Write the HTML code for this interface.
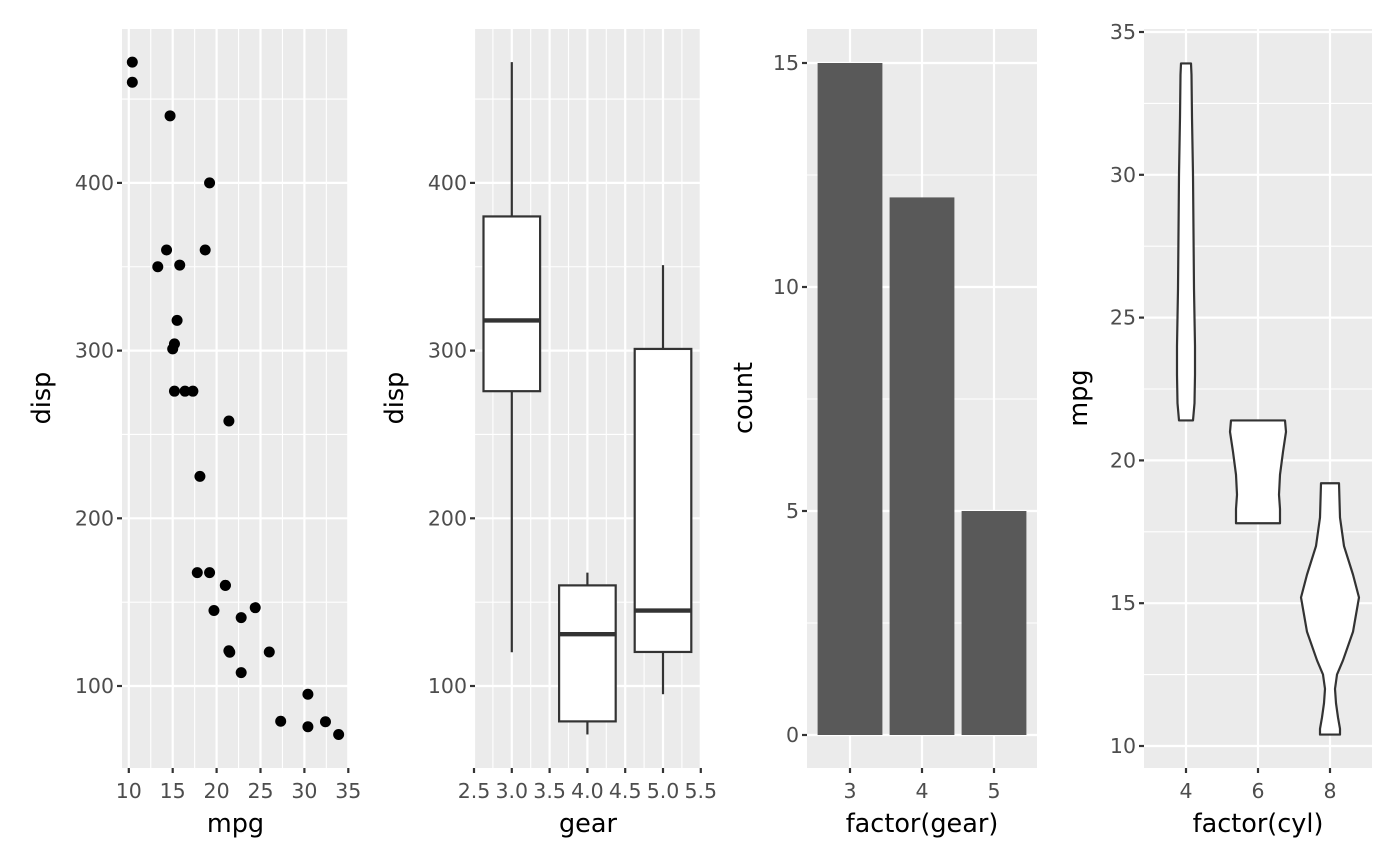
<!DOCTYPE html>
<html><head><meta charset="utf-8"><style>body{margin:0;background:#fff}svg{display:block}text{font-family:"DejaVu Sans","Liberation Sans",sans-serif}</style></head>
<body>
<svg id="s" width="1400" height="866" xmlns="http://www.w3.org/2000/svg"></svg>
<script>
const s=document.getElementById('s');let h='';
const T=29,B=768;
function panel(x0,x1,xmaj,xmin,ymaj,ymin,fx,fy,xl,xt,yt,ytx){
 h+=`<rect x="${x0}" y="${T}" width="${x1-x0}" height="${B-T}" fill="#ebebeb"/>`;
 xmin.forEach(v=>{let x=fx(v);h+=`<line x1="${x}" x2="${x}" y1="${T}" y2="${B}" stroke="#fff" stroke-width="1.1"/>`});
 ymin.forEach(v=>{let y=fy(v);h+=`<line x1="${x0}" x2="${x1}" y1="${y}" y2="${y}" stroke="#fff" stroke-width="1.1"/>`});
 xmaj.forEach(v=>{let x=fx(v);h+=`<line x1="${x}" x2="${x}" y1="${T}" y2="${B}" stroke="#fff" stroke-width="2.2"/><line x1="${x}" x2="${x}" y1="${B}" y2="${B+5}" stroke="#333" stroke-width="2.2"/>`});
 ymaj.forEach(v=>{let y=fy(v);h+=`<line x1="${x0}" x2="${x1}" y1="${y}" y2="${y}" stroke="#fff" stroke-width="2.2"/><line x1="${x0-5}" x2="${x0}" y1="${y}" y2="${y}" stroke="#333" stroke-width="2.2"/><text x="${x0-8}" y="${y+7}" text-anchor="end" font-size="20.5" fill="#4d4d4d">${v}</text>`});
 xmaj.forEach((v,i)=>{h+=`<text x="${fx(v)}" y="${B+30}" text-anchor="middle" font-size="20.5" fill="#4d4d4d">${xl?xl[i]:v}</text>`});
 h+=`<text x="${(x0+x1)/2}" y="832" text-anchor="middle" font-size="25.5">${xt}</text>`;
 h+=`<text transform="translate(${ytx},398) rotate(-90)" text-anchor="middle" font-size="25.5">${yt}</text>`;
}
const fd=v=>686-(v-100)*1.677;
const fm=v=>128.8+(v-10)*8.78;
panel(122,349,[10,15,20,25,30,35],[12.5,17.5,22.5,27.5,32.5],[100,200,300,400],[150,250,350,450],fm,fd,null,'mpg','disp',50);
const pts=[[21,160],[21,160],[22.8,108],[21.4,258],[18.7,360],[18.1,225],[14.3,360],[24.4,146.7],[22.8,140.8],[19.2,167.6],[17.8,167.6],[16.4,275.8],[17.3,275.8],[15.2,275.8],[10.4,472],[10.4,460],[14.7,440],[32.4,78.7],[30.4,75.7],[33.9,71.1],[21.5,120.1],[15.5,318],[15.2,304],[13.3,350],[19.2,400],[27.3,79],[26,120.3],[30.4,95.1],[15.8,351],[19.7,145],[15,301],[21.4,121]];
pts.forEach(p=>h+=`<circle cx="${fm(p[0])}" cy="${fd(p[1])}" r="5.5"/>`);
const fg=v=>474+(v-2.5)*75.6;
panel(475,701,[2.5,3,3.5,4,4.5,5,5.5],[2.75,3.25,3.75,4.25,4.75,5.25],[100,200,300,400],[150,250,350,450],fg,fd,['2.5','3.0','3.5','4.0','4.5','5.0','5.5'],'gear','disp',403);
[[3,120.1,275.8,318,380,472],[4,71.1,78.9,130.9,160,167.6],[5,95.1,120.3,145,301,351]].forEach(b=>{
 let c=fg(b[0]),w=28.3;
 h+=`<line x1="${c}" x2="${c}" y1="${fd(b[1])}" y2="${fd(b[2])}" stroke="#333" stroke-width="2.2"/><line x1="${c}" x2="${c}" y1="${fd(b[4])}" y2="${fd(b[5])}" stroke="#333" stroke-width="2.2"/>`;
 h+=`<rect x="${c-w}" y="${fd(b[4])}" width="${2*w}" height="${fd(b[2])-fd(b[4])}" fill="#fff" stroke="#333" stroke-width="2.2"/>`;
 h+=`<line x1="${c-w}" x2="${c+w}" y1="${fd(b[3])}" y2="${fd(b[3])}" stroke="#333" stroke-width="4.4"/>`;
});
const fc=v=>735-v*44.8, fx3=v=>850+(v-3)*72;
panel(807,1037,[3,4,5],[],[0,5,10,15],[2.5,7.5,12.5],fx3,fc,null,'factor(gear)','count',752);
[[3,15],[4,12],[5,5]].forEach(b=>h+=`<rect x="${fx3(b[0])-32.4}" y="${fc(b[1])}" width="64.8" height="${fc(0)-fc(b[1])}" fill="#595959"/>`);
const fy4=v=>746-(v-10)*28.56, fx4=v=>1186+(v-4)*36;
panel(1144,1372,[4,6,8],[],[10,15,20,25,30,35],[12.5,17.5,22.5,27.5,32.5],fx4,fy4,null,'factor(cyl)','mpg',1087);
function vio(c,arr){let L=arr.map(a=>`${c-a[1]},${fy4(a[0])}`),R=arr.slice().reverse().map(a=>`${c+a[1]},${fy4(a[0])}`);
 h+=`<polygon points="${L.concat(R).join(' ')}" fill="#fff" stroke="#333" stroke-width="2.2" stroke-linejoin="round"/>`;}
vio(1186,[[21.4,7],[22,8.5],[23,9],[24,9],[26,8],[28,7.5],[30,7],[32,6],[33.5,5.5],[33.9,5]]);
vio(1258,[[21.4,27],[21,28],[20.3,25],[19.5,22],[18.8,21],[18.3,22],[17.8,22]]);
vio(1330,[[10.4,10],[10.6,10],[11,8],[11.5,6],[12,5],[12.5,7],[13,13],[14,23],[15.2,29],[16,23],[17,14],[18,10],[19.2,9]]);
s.innerHTML=h;
</script>
</body></html>
